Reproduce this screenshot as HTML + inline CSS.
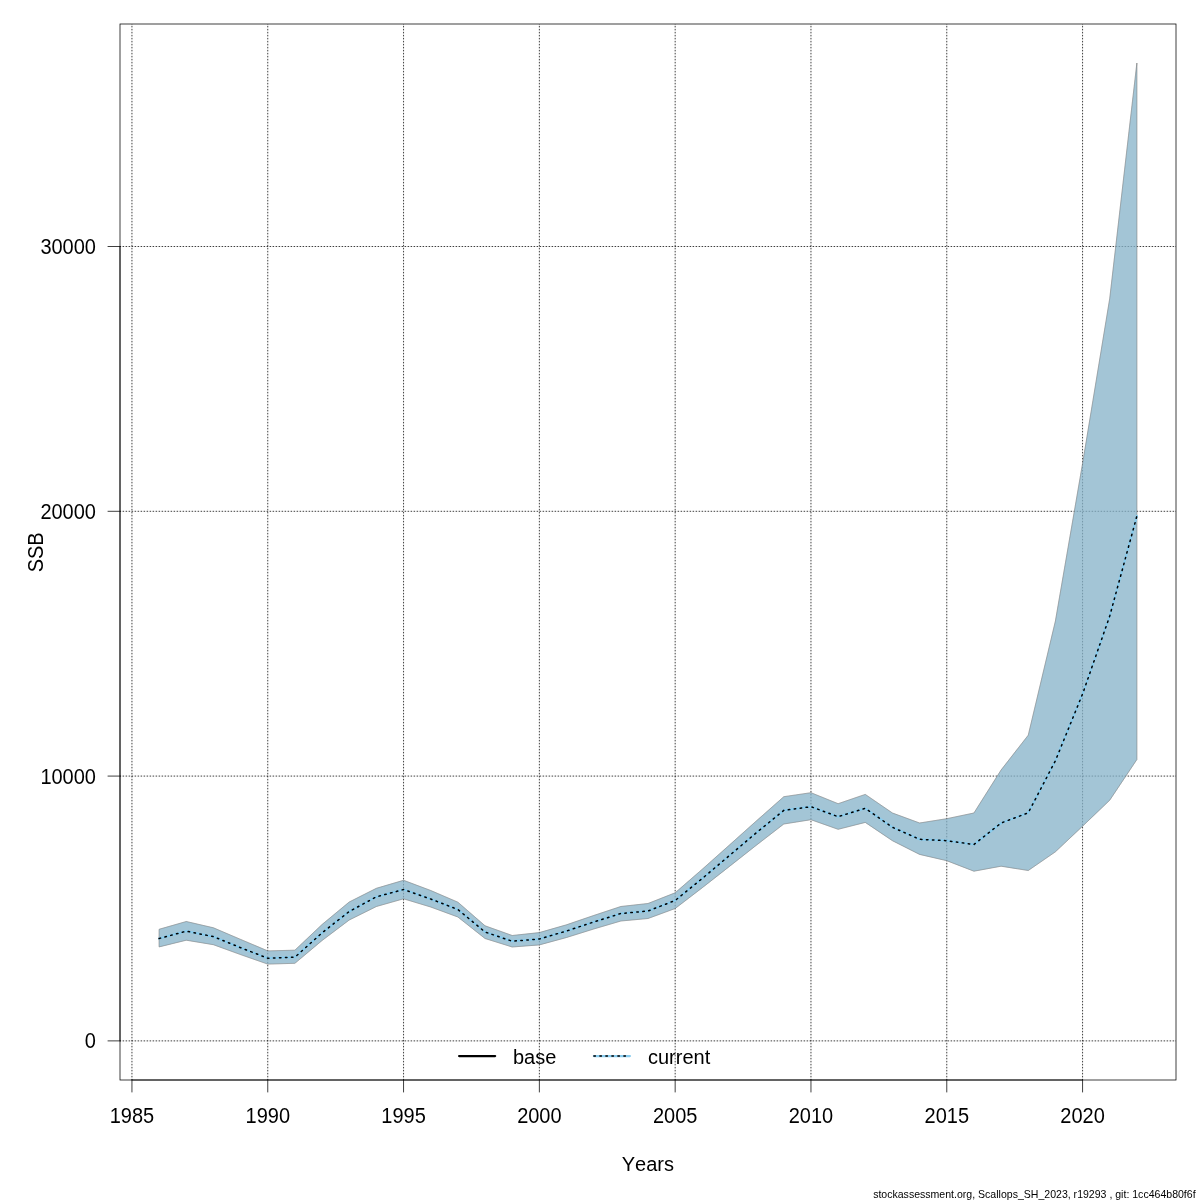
<!DOCTYPE html>
<html><head><meta charset="utf-8"><title>SSB</title>
<style>html,body{margin:0;padding:0;background:#fff;}svg{display:block;will-change:transform;}text{font-family:"Liberation Sans", sans-serif;font-kerning:none;}</style></head><body>
<svg width="1200" height="1200" viewBox="0 0 1200 1200">
<rect width="1200" height="1200" fill="#fff"/>
<defs><clipPath id="pr"><rect x="120" y="24" width="1056" height="1056"/></clipPath></defs>
<g stroke="#000" stroke-width="0.75" stroke-dasharray="0.75 2.25" stroke-linecap="round" fill="none" clip-path="url(#pr)">
<line x1="131.95" y1="1080" x2="131.95" y2="23.25"/>
<line x1="267.75" y1="1080" x2="267.75" y2="23.25"/>
<line x1="403.56" y1="1080" x2="403.56" y2="23.25"/>
<line x1="539.36" y1="1080" x2="539.36" y2="23.25"/>
<line x1="675.16" y1="1080" x2="675.16" y2="23.25"/>
<line x1="810.96" y1="1080" x2="810.96" y2="23.25"/>
<line x1="946.77" y1="1080" x2="946.77" y2="23.25"/>
<line x1="1082.57" y1="1080" x2="1082.57" y2="23.25"/>
<line x1="120" y1="1040.89" x2="1176.75" y2="1040.89"/>
<line x1="120" y1="776.09" x2="1176.75" y2="776.09"/>
<line x1="120" y1="511.3" x2="1176.75" y2="511.3"/>
<line x1="120" y1="246.5" x2="1176.75" y2="246.5"/>
</g>
<polygon points="159.11,929.3 186.27,921.5 213.43,927.8 240.59,939.4 267.75,950.9 294.91,950.2 322.07,924.5 349.23,902 376.4,888.3 403.56,880.3 430.72,890.5 457.88,902.2 485.04,925.8 512.2,935.5 539.36,932.6 566.52,924.8 593.68,915.5 620.84,906.5 648,903.5 675.16,892.8 702.32,869.2 729.48,845 756.64,820.7 783.8,796.7 810.96,792.7 838.12,803.7 865.28,794.4 892.44,813 919.6,823 946.77,818.7 973.93,813 1001.09,770 1028.25,735.2 1055.41,621 1082.57,463.5 1109.73,298.5 1136.89,63 1136.89,759.5 1109.73,800.2 1082.57,826.2 1055.41,851.8 1028.25,870.5 1001.09,866.2 973.93,871.2 946.77,860.7 919.6,854.4 892.44,840.7 865.28,822.4 838.12,829.3 810.96,819.7 783.8,824 756.64,845 729.48,866.4 702.32,887.7 675.16,908.5 648,918.5 620.84,921 593.68,929 566.52,937.5 539.36,944.9 512.2,947 485.04,938.5 457.88,917 430.72,907 403.56,898.8 376.4,906.5 349.23,920 322.07,940.5 294.91,963.3 267.75,964.1 240.59,954.6 213.43,944.7 186.27,940.2 159.11,946.9" fill="rgba(128,128,128,0.5)" stroke="rgba(128,128,128,0.5)" stroke-width="0.75" stroke-linejoin="round"/>
<polygon points="159.11,929.3 186.27,921.5 213.43,927.8 240.59,939.4 267.75,950.9 294.91,950.2 322.07,924.5 349.23,902 376.4,888.3 403.56,880.3 430.72,890.5 457.88,902.2 485.04,925.8 512.2,935.5 539.36,932.6 566.52,924.8 593.68,915.5 620.84,906.5 648,903.5 675.16,892.8 702.32,869.2 729.48,845 756.64,820.7 783.8,796.7 810.96,792.7 838.12,803.7 865.28,794.4 892.44,813 919.6,823 946.77,818.7 973.93,813 1001.09,770 1028.25,735.2 1055.41,621 1082.57,463.5 1109.73,298.5 1136.89,63 1136.89,759.5 1109.73,800.2 1082.57,826.2 1055.41,851.8 1028.25,870.5 1001.09,866.2 973.93,871.2 946.77,860.7 919.6,854.4 892.44,840.7 865.28,822.4 838.12,829.3 810.96,819.7 783.8,824 756.64,845 729.48,866.4 702.32,887.7 675.16,908.5 648,918.5 620.84,921 593.68,929 566.52,937.5 539.36,944.9 512.2,947 485.04,938.5 457.88,917 430.72,907 403.56,898.8 376.4,906.5 349.23,920 322.07,940.5 294.91,963.3 267.75,964.1 240.59,954.6 213.43,944.7 186.27,940.2 159.11,946.9" fill="rgba(136,204,238,0.5)" stroke="rgba(128,128,128,0.5)" stroke-width="0.75" stroke-linejoin="round"/>
<polyline points="159.11,938.5 186.27,931.2 213.43,936.6 240.59,947.7 267.75,958.2 294.91,957.2 322.07,932.8 349.23,911.5 376.4,896.8 403.56,889.5 430.72,899 457.88,909.5 485.04,932 512.2,941.2 539.36,939 566.52,931 593.68,922 620.84,913.5 648,911 675.16,900.5 702.32,878.4 729.48,855.5 756.64,832.5 783.8,810.4 810.96,806.7 838.12,816.7 865.28,808.3 892.44,827.3 919.6,839.3 946.77,840.7 973.93,844.5 1001.09,823 1028.25,812.8 1055.41,760.7 1082.57,694 1109.73,616 1136.89,516" fill="none" stroke="#88ccee" stroke-width="2.25" stroke-linejoin="round" stroke-linecap="round"/>
<polyline points="159.11,938.5 186.27,931.2 213.43,936.6 240.59,947.7 267.75,958.2 294.91,957.2 322.07,932.8 349.23,911.5 376.4,896.8 403.56,889.5 430.72,899 457.88,909.5 485.04,932 512.2,941.2 539.36,939 566.52,931 593.68,922 620.84,913.5 648,911 675.16,900.5 702.32,878.4 729.48,855.5 756.64,832.5 783.8,810.4 810.96,806.7 838.12,816.7 865.28,808.3 892.44,827.3 919.6,839.3 946.77,840.7 973.93,844.5 1001.09,823 1028.25,812.8 1055.41,760.7 1082.57,694 1109.73,616 1136.89,516" fill="none" stroke="#000" stroke-width="1.5" stroke-dasharray="1.5 4.5" stroke-linejoin="round" stroke-linecap="round"/>
<rect x="120" y="24" width="1056" height="1056" fill="none" stroke="#000" stroke-width="0.75"/>
<g stroke="#000" stroke-width="0.75" stroke-linecap="round" fill="none">
<line x1="131.95" y1="1080" x2="1082.57" y2="1080"/>
<line x1="131.95" y1="1080" x2="131.95" y2="1092"/>
<line x1="267.75" y1="1080" x2="267.75" y2="1092"/>
<line x1="403.56" y1="1080" x2="403.56" y2="1092"/>
<line x1="539.36" y1="1080" x2="539.36" y2="1092"/>
<line x1="675.16" y1="1080" x2="675.16" y2="1092"/>
<line x1="810.96" y1="1080" x2="810.96" y2="1092"/>
<line x1="946.77" y1="1080" x2="946.77" y2="1092"/>
<line x1="1082.57" y1="1080" x2="1082.57" y2="1092"/>
<line x1="120" y1="1040.89" x2="120" y2="246.5"/>
<line x1="120" y1="1040.89" x2="108" y2="1040.89"/>
<line x1="120" y1="776.09" x2="108" y2="776.09"/>
<line x1="120" y1="511.3" x2="108" y2="511.3"/>
<line x1="120" y1="246.5" x2="108" y2="246.5"/>
</g>
<g font-size="20" fill="#000">
<text transform="translate(131.95,1122.7) scale(1,1.065)" text-anchor="middle">1985</text>
<text transform="translate(267.75,1122.7) scale(1,1.065)" text-anchor="middle">1990</text>
<text transform="translate(403.56,1122.7) scale(1,1.065)" text-anchor="middle">1995</text>
<text transform="translate(539.36,1122.7) scale(1,1.065)" text-anchor="middle">2000</text>
<text transform="translate(675.16,1122.7) scale(1,1.065)" text-anchor="middle">2005</text>
<text transform="translate(810.96,1122.7) scale(1,1.065)" text-anchor="middle">2010</text>
<text transform="translate(946.77,1122.7) scale(1,1.065)" text-anchor="middle">2015</text>
<text transform="translate(1082.57,1122.7) scale(1,1.065)" text-anchor="middle">2020</text>
<text transform="translate(96,1048.49) scale(1,1.065)" text-anchor="end">0</text>
<text transform="translate(96,783.69) scale(1,1.065)" text-anchor="end">10000</text>
<text transform="translate(96,518.9) scale(1,1.065)" text-anchor="end">20000</text>
<text transform="translate(96,254.1) scale(1,1.065)" text-anchor="end">30000</text>
<text x="647.8" y="1170.5" text-anchor="middle">Years</text>
<text transform="translate(43.1,552.3) rotate(-90) scale(1,1.06)" text-anchor="middle">SSB</text>
</g>
<line x1="459.1" y1="1056" x2="495.1" y2="1056" stroke="#000" stroke-width="2.25" stroke-linecap="round"/>
<line x1="593.9" y1="1056" x2="629.9" y2="1056" stroke="#88ccee" stroke-width="2.25" stroke-linecap="round"/>
<line x1="593.9" y1="1056" x2="629.9" y2="1056" stroke="#000" stroke-width="1.5" stroke-dasharray="1.5 4.5" stroke-linecap="round"/>
<text x="513" y="1063.5" font-size="20">base</text>
<text x="648" y="1063.5" font-size="20">current</text>
<text x="1195.6" y="1197.8" font-size="10.55" text-anchor="end" fill="#000">stockassessment.org, Scallops_SH_2023, r19293 , git: 1cc464b80f6f</text>
</svg>
</body></html>
